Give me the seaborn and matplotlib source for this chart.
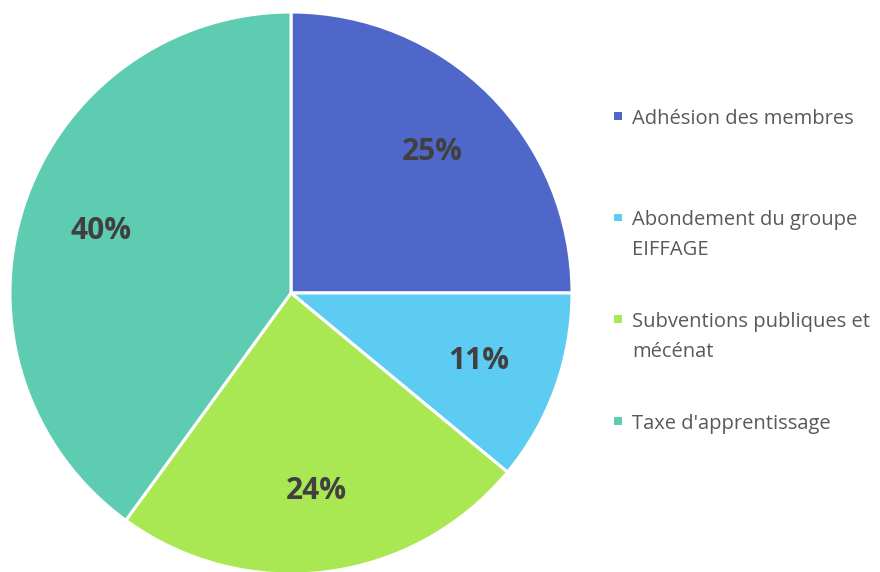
import matplotlib
matplotlib.use('Agg')
import matplotlib.pyplot as plt
import matplotlib.patches as mpatches
import seaborn as sns

sns.set_theme(style='white')
plt.rcParams['font.family'] = ['Open Sans', 'DejaVu Sans']

# data
labels = ['Adhésion des membres', 'Abondement du groupe\nEIFFAGE',
          'Subventions publiques et\nmécénat', "Taxe d'apprentissage"]
shares = [25, 11, 24, 40]
colors = sns.color_palette(['#4F67C8', '#5DCCF2', '#A9E852', '#5DCCB0'])
text_color = '#404040'

W, H = 880, 572
fig = plt.figure(figsize=(W / 100, H / 100), dpi=100)
ax = fig.add_axes([10 / W, -2 / H, 562 / W, 562 / H])

wedges, texts, autotexts = ax.pie(
    shares, colors=colors, startangle=90, counterclock=False,
    autopct='%1.0f%%', pctdistance=0.71,
    wedgeprops=dict(edgecolor='white', linewidth=2.2),
    textprops=dict(color=text_color, fontsize=21.5, fontweight='bold'))
ax.set_xlim(-1, 1)
ax.set_ylim(-1, 1)

# legend drawn by hand so that the marker sits on the first text line
y0, step, line_h = 116, 101.7, 30
for i, (lab, c) in enumerate(zip(labels, colors)):
    yc = y0 + i * step
    fig.add_artist(mpatches.Rectangle((614 / W, 1 - (yc + 3.5) / H), 7.5 / W, 7.5 / H,
                                      transform=fig.transFigure, color=c, lw=0))
    for k, line in enumerate(lab.split('\n')):
        fig.text(632 / W, 1 - (yc + 7.5 + k * line_h) / H, line, fontsize=14.5,
                 color='#595959', va='baseline', ha='left')

fig.savefig('out.png', dpi=100)
